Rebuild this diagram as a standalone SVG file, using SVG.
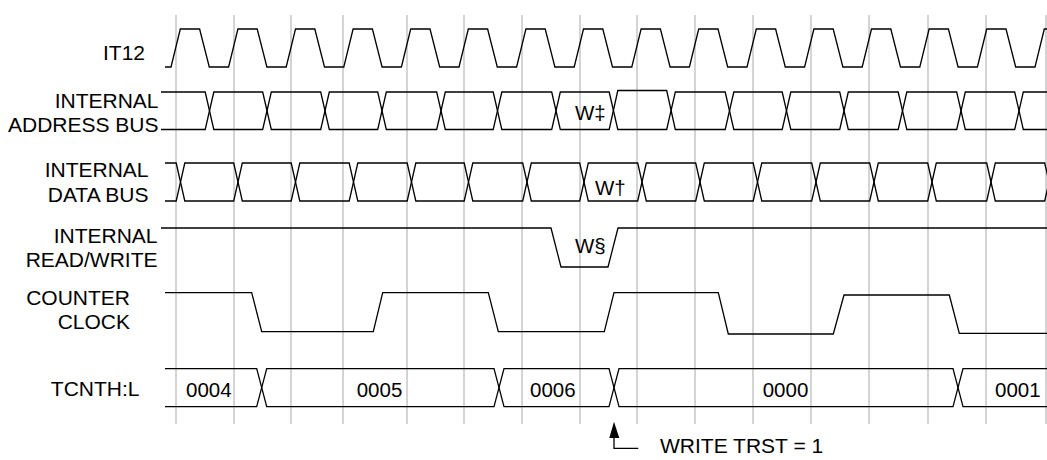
<svg xmlns="http://www.w3.org/2000/svg" width="1047" height="460" viewBox="0 0 1047 460">
<style>
.bg{fill:#ffffff}
.grid line{stroke:#bdbdbd;stroke-width:1.3}
.sig{fill:none;stroke:#000;stroke-width:1.3;stroke-linejoin:miter}
text{font-family:"Liberation Sans",Arial,sans-serif;font-size:21px;fill:#000}
.lbl{text-anchor:end}
.val{font-size:20.5px}
</style>
<rect class="bg" x="0" y="0" width="1047" height="460"/>
<g id="grid" class="grid">
<line x1="176" y1="15" x2="176" y2="424"/>
<line x1="234" y1="15" x2="234" y2="424"/>
<line x1="291" y1="15" x2="291" y2="424"/>
<line x1="343" y1="15" x2="343" y2="424"/>
<line x1="407" y1="15" x2="407" y2="424"/>
<line x1="464" y1="15" x2="464" y2="424"/>
<line x1="522" y1="15" x2="522" y2="424"/>
<line x1="580" y1="15" x2="580" y2="424"/>
<line x1="637" y1="15" x2="637" y2="424"/>
<line x1="695" y1="15" x2="695" y2="424"/>
<line x1="753" y1="15" x2="753" y2="424"/>
<line x1="811" y1="15" x2="811" y2="424"/>
<line x1="869" y1="15" x2="869" y2="424"/>
<line x1="928" y1="15" x2="928" y2="424"/>
<line x1="986" y1="15" x2="986" y2="424"/>
<line x1="1046" y1="15" x2="1046" y2="424"/>
</g>
<g id="it12">
<text class="lbl" x="145" y="60">IT12</text>
<path class="sig" d="M165,67 H171 L180.3,29 H199.6 L209.3,67 H228.6 L237.9,29 H257.2 L266.9,67 H286.2 L295.5,29 H314.8 L324.5,67 H343.8 L353.1,29 H372.4 L382.1,67 H401.4 L410.7,29 H430 L439.7,67 H459 L468.3,29 H487.6 L497.3,67 H516.6 L525.9,29 H545.2 L554.9,67 H574.2 L583.5,29 H602.8 L612.5,67 H631.8 L641.1,29 H660.4 L670.1,67 H689.4 L698.7,29 H718 L727.7,67 H747 L756.3,29 H775.6 L785.3,67 H804.6 L813.9,29 H833.2 L842.9,67 H862.2 L871.5,29 H890.8 L900.5,67 H919.8 L929.1,29 H948.4 L958.1,67 H977.4 L986.7,29 H1006 L1015.7,67 H1035 L1044.3,29 H1050"/>
</g>
<g id="address-bus">
<text class="lbl" x="158.5" y="107.5">INTERNAL</text>
<text class="lbl" x="158.5" y="132">ADDRESS BUS</text>
<path class="sig" d="M161,92 H205.2 L213.8,129.5 H262.7 L271.3,92 H320.7 L329.3,129.5 H377.7 L386.3,92 H436.7 L445.3,129.5 H493.2 L501.8,92 H551.7 L560.3,129.5 H609.2 L617.8,90.5 H666.7 L675.3,129.5 H725.2 L733.8,92 H782.2 L790.8,129.5 H839.7 L848.3,92 H898.2 L906.8,129.5 H956.7 L965.3,92 H1014.7 L1023.3,129.5 H1050"/>
<path class="sig" d="M161,129.5 H205.2 L213.8,92 H262.7 L271.3,129.5 H320.7 L329.3,92 H377.7 L386.3,129.5 H436.7 L445.3,92 H493.2 L501.8,129.5 H551.7 L560.3,92 H609.2 L617.8,129.5 H666.7 L675.3,92 H725.2 L733.8,129.5 H782.2 L790.8,92 H839.7 L848.3,129.5 H898.2 L906.8,92 H956.7 L965.3,129.5 H1014.7 L1023.3,92 H1050"/>
<text class="val" x="575" y="120">W‡</text>
</g>
<g id="data-bus">
<text class="lbl" x="148.5" y="176.5">INTERNAL</text>
<text class="lbl" x="148.5" y="201.5">DATA BUS</text>
<path class="sig" d="M165,163 H176.2 L184.8,201 H233.7 L242.3,163 H291.2 L299.8,201 H349.2 L357.8,163 H407.2 L415.8,201 H464.2 L472.8,163 H522.7 L531.3,201 H579.7 L588.3,163 H637.7 L646.3,201 H695.7 L704.3,163 H753.2 L761.8,201 H811.7 L820.3,163 H869.7 L878.3,201 H927.7 L936.3,163 H986.7 L995.3,201 H1044.7 L1053.3,163"/>
<path class="sig" d="M165,201 H176.2 L184.8,163 H233.7 L242.3,201 H291.2 L299.8,163 H349.2 L357.8,201 H407.2 L415.8,163 H464.2 L472.8,201 H522.7 L531.3,163 H579.7 L588.3,201 H637.7 L646.3,163 H695.7 L704.3,201 H753.2 L761.8,163 H811.7 L820.3,201 H869.7 L878.3,163 H927.7 L936.3,201 H986.7 L995.3,163 H1044.7 L1053.3,201"/>
<text class="val" x="595" y="195">W†</text>
</g>
<g id="read-write">
<text class="lbl" x="157.5" y="243">INTERNAL</text>
<text class="lbl" x="157.5" y="267">READ/WRITE</text>
<path class="sig" d="M161,228 H551 L561,267 H608 L618,228 H1050"/>
<text class="val" x="575" y="253">W§</text>
</g>
<g id="counter-clock">
<text class="lbl" x="130" y="305">COUNTER</text>
<text class="lbl" x="130" y="329">CLOCK</text>
<path class="sig" d="M165,292.7 H251.7 L261.7,331.7 H373.3 L382.7,292.7 H488.3 L498.3,331.7 H604.3 L614,292.7 H718.3 L728.3,334 H833.3 L844,295 H949.3 L959.3,333.3 H1050"/>
</g>
<g id="tcnth-l">
<text class="lbl" x="139.5" y="396">TCNTH:L</text>
<path class="sig" d="M165,368.7 H256.7 L266.7,406.7 H494 L504,368.7 H609 L619,406.7 H953 L963,368.7 H1050"/>
<path class="sig" d="M165,406.7 H256.7 L266.7,368.7 H494 L504,406.7 H609 L619,368.7 H953 L963,406.7 H1050"/>
<text class="val" x="186" y="396.7">0004</text>
<text class="val" x="356.7" y="396.7">0005</text>
<text class="val" x="530" y="396.7">0006</text>
<text class="val" x="762.7" y="396.7">0000</text>
<text class="val" x="995" y="396.7">0001</text>
</g>
<g id="connectors">
<polygon points="614,421.7 609.3,438 619.3,438" fill="#000"/>
<path class="sig" d="M614,437 V448.3 H638.3"/>
</g>
<g id="note-write-trst">
<text x="660" y="453">WRITE TRST = 1</text>
</g>
</svg>
